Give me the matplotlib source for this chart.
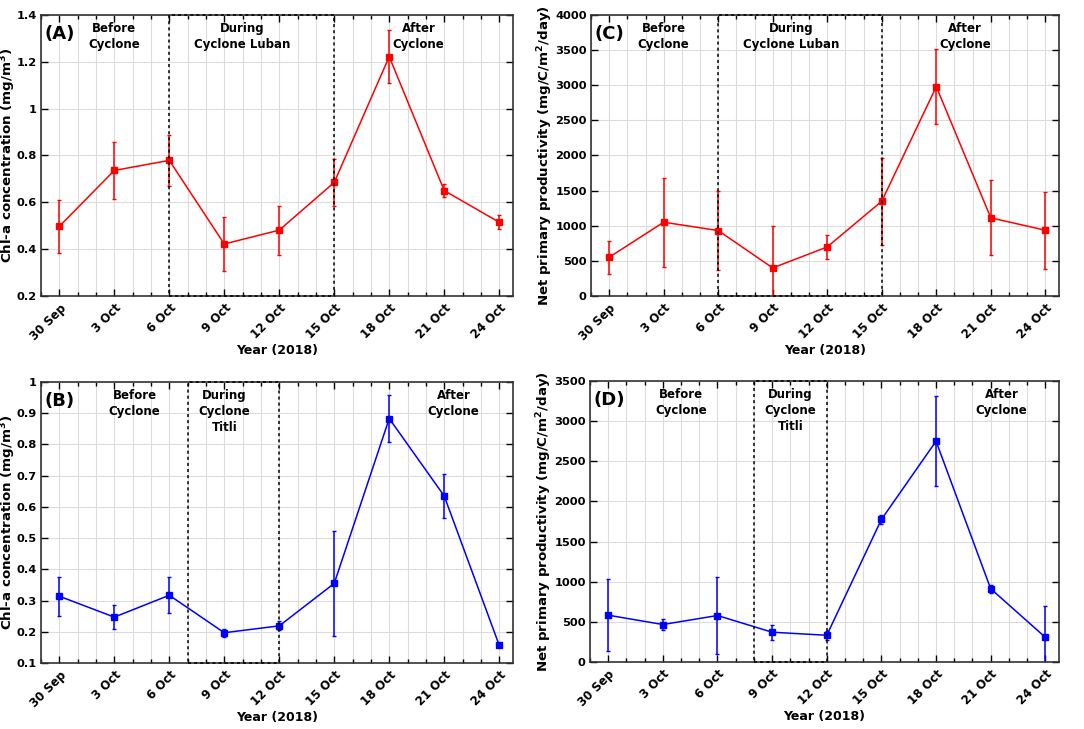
import matplotlib
matplotlib.use("Agg")
from matplotlib import pyplot as plt
from matplotlib.patches import Rectangle
from matplotlib.ticker import MultipleLocator, FormatStrFormatter
import matplotlib.transforms as mtransforms

plt.rcParams['font.family'] = ['DejaVu Sans Condensed', 'DejaVu Sans']
plt.rcParams['mathtext.fontset'] = 'dejavusans'

# days counted from 30 Sep 2018
days = [0, 3, 6, 9, 12, 15, 18, 21, 24]
day_labels = ["30 Sep", "3 Oct", "6 Oct", "9 Oct", "12 Oct", "15 Oct", "18 Oct", "21 Oct", "24 Oct"]

# (A) Chl-a, cyclone Luban
chl_luban = [0.497, 0.736, 0.779, 0.422, 0.481, 0.685, 1.222, 0.650, 0.515]
chl_luban_err = [0.113, 0.122, 0.110, 0.114, 0.104, 0.100, 0.114, 0.027, 0.030]

# (B) Chl-a, cyclone Titli
chl_titli = [0.314, 0.247, 0.317, 0.197, 0.219, 0.355, 0.883, 0.635, 0.157]
chl_titli_err = [0.063, 0.038, 0.057, 0.013, 0.014, 0.167, 0.075, 0.069, 0.005]

# (C) NPP, cyclone Luban
npp_luban = [551, 1050, 931, 399, 698, 1349, 2979, 1112, 936]
npp_luban_err = [235, 632, 560, 594, 170, 620, 530, 535, 545]

# (D) NPP, cyclone Titli
npp_titli = [583, 467, 579, 371, 333, 1775, 2750, 913, 308]
npp_titli_err = [445, 66, 475, 92, 55, 60, 562, 50, 392]

luban_period = [6, 15]
titli_period = [7, 12]
titli_period_npp = [8, 12]

chl_label = "Chl-a concentration (mg/m$^\\mathbf{3}$)"
npp_label = "Net primary productivity (mg/C/m$^\\mathbf{2}$/day)"


def panel(ax, y, err, color, ylim, ystep, ylabel, label_x, letter, period, name, text_x, fmt):
    ax.errorbar(days, y, yerr=err, color=color, marker="s", markersize=5,
                linewidth=1.1, elinewidth=1.1, capsize=1.5, capthick=1)
    ax.set_xlim(-1, 24.75)
    ax.set_ylim(*ylim)
    ax.set_xticks(days)
    ax.set_xticklabels(day_labels, rotation=45, ha="right", va="top",
                       rotation_mode="anchor", fontweight="bold", fontsize=8.5)
    ax.xaxis.set_minor_locator(MultipleLocator(1))
    ax.yaxis.set_major_locator(MultipleLocator(ystep))
    ax.yaxis.set_major_formatter(FormatStrFormatter(fmt))
    for lab in ax.get_yticklabels():
        lab.set_fontweight("bold")
        lab.set_fontsize(8.2)
    ax.grid(True, which="major", color="#dcdcdc", linewidth=0.8)
    ax.grid(True, which="minor", axis="x", color="#dcdcdc", linewidth=0.8)
    ax.set_axisbelow(True)
    ax.tick_params(which="both", direction="in", top=True, right=True)
    ax.tick_params(which="major", length=5, width=1)
    ax.tick_params(which="minor", length=3, width=1)
    ax.tick_params(axis="x", pad=4)
    ax.tick_params(axis="y", pad=3)
    for s in ax.spines.values():
        s.set_linewidth(1.2)
        s.set_color("#333333")
    ax.set_xlabel("Year (2018)", fontweight="bold", fontsize=9, labelpad=1)
    ax.set_ylabel(ylabel, fontweight="bold", fontsize=9.6)
    ax.yaxis.set_label_coords(label_x, 0.5)

    trans = mtransforms.blended_transform_factory(ax.transData, ax.transAxes)
    ax.add_patch(Rectangle((period[0], 0), period[1] - period[0], 1, transform=trans,
                           fill=False, linestyle=(0, (2, 2)), linewidth=1.1,
                           edgecolor="black", clip_on=False, zorder=5))

    ax.text(0.008, 0.965, letter, transform=ax.transAxes, fontsize=13,
            fontweight="bold", va="top", ha="left")
    labels = ["Before\nCyclone", "During\n" + name, "After\nCyclone"]
    for tx, t in zip(text_x, labels):
        ax.text(tx, 0.975, t, transform=trans, fontsize=8.5, fontweight="bold",
                ha="center", va="top", linespacing=1.3)


fig = plt.figure(figsize=(10.84, 7.29), dpi=100)
axA = fig.add_axes([0.0378, 0.594, 0.4354, 0.3855])
axC = fig.add_axes([0.5452, 0.594, 0.4317, 0.3855])
axB = fig.add_axes([0.0378, 0.0905, 0.4354, 0.3855])
axD = fig.add_axes([0.5443, 0.0919, 0.4326, 0.3855])

panel(axA, chl_luban, chl_luban_err, "#ff0000", (0.2, 1.4), 0.2, chl_label, -0.048,
      "(A)", luban_period, "Cyclone Luban", [3, 10, 19.6], "%g")
panel(axB, chl_titli, chl_titli_err, "#0000ff", (0.1, 1.0), 0.1, chl_label, -0.048,
      "(B)", titli_period, "Cyclone\nTitli", [4.1, 9, 21.5], "%g")
panel(axC, npp_luban, npp_luban_err, "#ff0000", (0, 4000), 500, npp_label, -0.077,
      "(C)", luban_period, "Cyclone Luban", [3, 10, 19.6], "%d")
panel(axD, npp_titli, npp_titli_err, "#0000ff", (0, 3500), 500, npp_label, -0.077,
      "(D)", titli_period_npp, "Cyclone\nTitli", [4, 10, 21.6], "%d")

plt.savefig("out.png", dpi=100)
